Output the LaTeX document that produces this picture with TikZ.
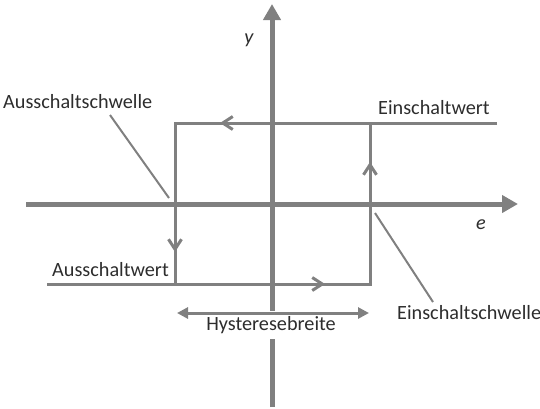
\documentclass[tikz,border=0pt]{standalone}
\usepackage{fontspec}
\setmainfont{Carlito}
\usetikzlibrary{arrows.meta}
\definecolor{linegray}{RGB}{128,128,128}
\definecolor{textgray}{RGB}{45,45,45}

\begin{document}
\begin{tikzpicture}[x=1bp,y=-1bp,
  axis/.style={linegray,line width=5bp,-{Triangle[length=16bp,width=17bp]}},
  loopline/.style={linegray,line width=3bp},
  midtip/.style={-{Straight Barb[length=10bp,width=13bp]}},
  pointer/.style={linegray,line width=2bp},
  lbl/.style={anchor=base west,inner sep=0pt},
  every node/.style={text=textgray,font=\fontsize{20.3}{24}\selectfont}]
  \useasboundingbox (0,0) rectangle (540,408);
  % axes
  \draw[axis] (26,204) -- (518,204);
  \draw[axis] (272,407) -- (272,4);
  \node (y) at (249,40) {\itshape y};
  \node (e) at (481,225) {\itshape e};
  % hysteresis loop
  \coordinate (TL) at (175,123);
  \coordinate (TR) at (370,123);
  \coordinate (BL) at (175,284);
  \coordinate (BR) at (370,284);
  \draw[loopline] (497,123) -- (TL) -- (BL);
  \draw[loopline] (47,284) -- (BR) -- (TR);
  \draw[loopline,midtip] (TR) -- (220,123);
  \draw[loopline,midtip] (TL) -- (175,252);
  \draw[loopline,midtip] (BL) -- (325,284);
  \draw[loopline,midtip] (BR) -- (370,162);
  % labels
  \node[lbl] (aus) at (3,108) {Ausschaltschwelle};
  \node[lbl] (einw) at (378,114) {Einschaltwert};
  \node[lbl] (ausw) at (52,276) {Ausschaltwert};
  \node[lbl] (ein) at (397,319) {Einschaltschwelle};
  \draw[pointer] (110,115) -- (169,198);
  \draw[pointer] (375,213) -- (433,302);
  % width
  \node[fill=white,inner ysep=5bp] (hyst) at (271,325) {Hysteresebreite};
  \draw[loopline,{Triangle[length=11bp,width=11bp]}-{Triangle[length=11bp,width=11bp]}] (177,313) -- (369,313);
\end{tikzpicture}
\end{document}
